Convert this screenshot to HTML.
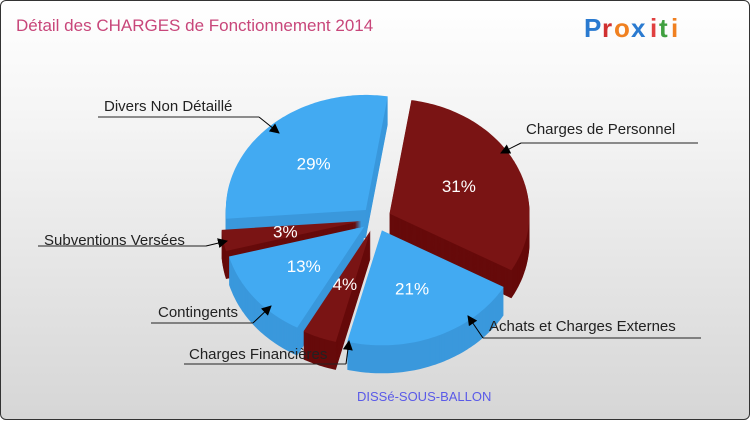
<!DOCTYPE html>
<html><head><meta charset="utf-8"><style>
html,body{margin:0;padding:0;}
body{width:750px;height:420px;overflow:hidden;font-family:"Liberation Sans",sans-serif;}
#wrap{position:absolute;left:0;top:0;width:748px;height:418px;border:1px solid #333;border-radius:6px;background:linear-gradient(#ffffff,#f4f4f4 30%,#d6d6d6);}
</style></head><body>
<div id="wrap">
<svg id="chart" width="750" height="420" xmlns="http://www.w3.org/2000/svg">
<defs><marker id="ah" viewBox="0 0 10 10" refX="9" refY="5" markerWidth="10" markerHeight="10" markerUnits="userSpaceOnUse" orient="auto"><path d="M0,0 L10,5 L0,10 z" fill="#000"/></marker></defs>
<text x="15" y="30" font-size="17" fill="#c8467a">Détail des CHARGES de Fonctionnement 2014</text>
<g font-size="26" font-weight="bold">
<text x="583" y="36" fill="#2a7ad0">P</text><text x="601" y="36" fill="#d03030">r</text><text x="613" y="36" fill="#f08020">o</text><text x="630" y="36" fill="#2a7ad0">x</text><text x="649" y="36" fill="#e04040">i</text><text x="658" y="36" fill="#40a040">t</text><text x="670" y="36" fill="#f08020">i</text>
</g>
<g id="slices"></g>
<g id="pcts" font-size="17" fill="#fff"></g>
<g id="labels" font-size="15" fill="#222" stroke-width="1"></g>
<text x="356" y="400" font-size="13" fill="#5a5ae8">DISSé-SOUS-BALLON</text>
</svg></div>
<script>
const categories=["Charges de Personnel","Achats et Charges Externes","Charges Financières","Contingents","Subventions Versées","Divers Non Détaillé"];
const values=[31,21,4,13,3,29];
const pctLabels=["31%","21%","4%","13%","3%","29%"];
const NS="http://www.w3.org/2000/svg";
const cx=375,cy=218,rx=140,ry=115,depth=28,expl=15,start=9;
const total=values.reduce((a,b)=>a+b,0);
const colors=[["#7a1414","#660a0a"],["#42aaf2","#3a98dc"]];
function pt(t,r,ox,oy){const a=t*Math.PI/180;return [ox+rx*r*Math.sin(a),oy-ry*r*Math.cos(a)];}
let acc=start;const sl=[];
values.forEach((v,i)=>{const a0=acc,a1=acc+v/total*360;acc=a1;const m=(a0+a1)/2;const d=pt(m,expl/rx,0,0);sl.push({i,a0,a1,m,ox:cx+d[0],oy:cy+d[1]});});
function path(s,dy){const oy=s.oy+dy;let p=`M${s.ox},${oy}`;for(let t=s.a0;t<=s.a1+0.001;t+=1){const q=pt(Math.min(t,s.a1),1,s.ox,oy);p+=` L${q[0].toFixed(1)},${q[1].toFixed(1)}`;}const q=pt(s.a1,1,s.ox,oy);p+=` L${q[0]},${q[1]} Z`;return p;}
const g=document.getElementById('slices');
const order=[...sl].sort((a,b)=>Math.cos(b.m*Math.PI/180)-Math.cos(a.m*Math.PI/180));
order.forEach(s=>{const col=(s.i===0||s.i===2||s.i===4)?colors[0]:colors[1];
 const grp=document.createElementNS(NS,'g');
 
 
 for(let d=depth;d>0;d-=1){const p=document.createElementNS(NS,'path');p.setAttribute('d',path(s,d));p.setAttribute('fill',col[1]);grp.appendChild(p);}
 const p=document.createElementNS(NS,'path');p.setAttribute('d',path(s,0));p.setAttribute('fill',col[0]);grp.appendChild(p);
 g.appendChild(grp);});
const pg=document.getElementById('pcts');
sl.forEach(s=>{const r=s.i===2?0.5:0.55;const q=pt(s.m,r,s.ox,s.oy);const t=document.createElementNS(NS,'text');
 t.setAttribute('x',q[0]);t.setAttribute('y',q[1]+6);t.setAttribute('text-anchor','middle');t.textContent=pctLabels[s.i];
 
 
 pg.appendChild(t);});
const lab=[[525,133,520,142,697,142,500,152],[488,330,482,337,700,337,467,315],[188,358,183,363,345,363,348,340],[157,316,150,322,252,322,270,305],[43,244,37,245,205,245,226,240],[103,110,97,116,258,116,278,132]];
const lg=document.getElementById('labels');
lab.forEach((L,i)=>{const t=document.createElementNS(NS,'text');t.setAttribute('x',L[0]);t.setAttribute('y',L[1]);t.textContent=categories[i];
 
 
 lg.appendChild(t);
 const ex=(i===0||i===1)?L[2]:L[4];
 const pl=document.createElementNS(NS,'polyline');pl.setAttribute('points',`${L[2]},${L[3]} ${L[4]},${L[5]}`);pl.setAttribute('stroke','#222');pl.setAttribute('fill','none');
 
 
 lg.appendChild(pl);
 const ar=document.createElementNS(NS,'line');ar.setAttribute('x1',ex);ar.setAttribute('y1',L[3]);ar.setAttribute('x2',L[6]);ar.setAttribute('y2',L[7]);ar.setAttribute('stroke','#000');ar.setAttribute('marker-end','url(#ah)');
 
 
 lg.appendChild(ar);});
</script>
</body></html>
